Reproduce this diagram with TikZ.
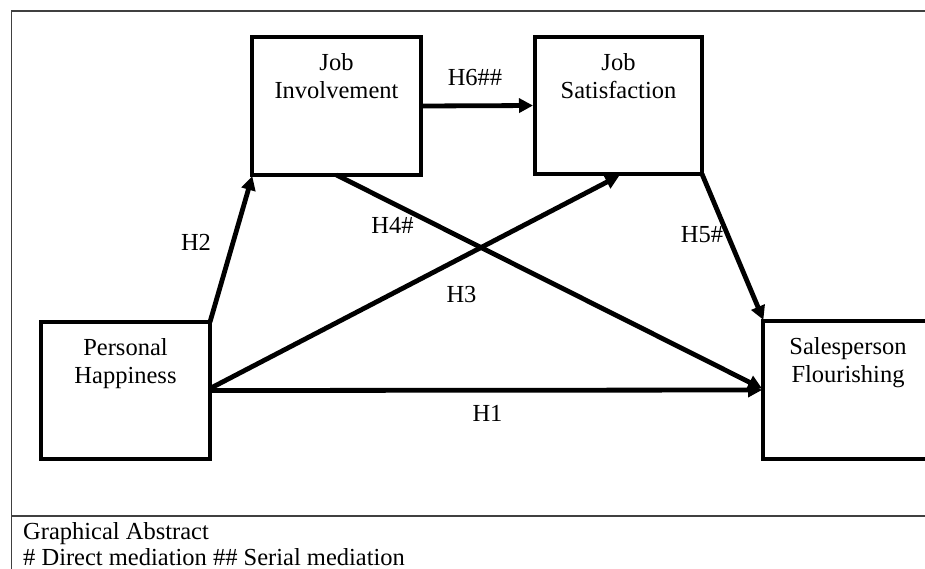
\documentclass[tikz,border=0pt]{standalone}
\usepackage{fontspec}
\setmainfont{Liberation Serif}
\usetikzlibrary{arrows.meta}
\tikzset{
  box/.style={draw=black, line width=4.8pt, rectangle, inner sep=0pt, outer sep=0pt, fill=none},
  boxtext/.style={font=\fontsize{24.5}{28}\selectfont, align=center, inner sep=0pt, anchor=north},
  lbl/.style={font=\fontsize{24.5}{28}\selectfont, inner sep=0pt, anchor=base},
  conn/.style={line width=4.8pt, -{Triangle[length=14pt,width=14pt]}, shorten >=-1pt},
  frame/.style={line width=1.2pt, draw=black!75},
  note/.style={font=\fontsize{24.5}{28}\selectfont, inner sep=0pt, anchor=base west}
}
\begin{document}
\begin{tikzpicture}[x=1pt,y=-1pt]
\useasboundingbox (0,0) rectangle (925,568);
\clip (0,0) rectangle (925,568);
% frame
\coordinate (f1) at (11.5,11);
\coordinate (f2) at (940,11);
\coordinate (f3) at (11.5,580);
\coordinate (s1) at (11.5,516);
\coordinate (s2) at (940,516);
\draw[frame] (f3) -- (f1) -- (f2);
\draw[frame] (s1) -- (s2);
% boxes
\node[box, minimum width=169pt, minimum height=137pt] (ph) at (125.5,390.5) {};
\node[box, minimum width=169pt, minimum height=138pt] (ji) at (336.5,106) {};
\node[box, minimum width=167pt, minimum height=137pt] (js) at (618.5,105.5) {};
\node[box, minimum width=170pt, minimum height=138pt] (sf) at (848,390) {};
% box texts
\node[boxtext] (pht) at ([yshift=-16.4pt]ph.north) {Personal\\Happiness};
\node[boxtext] (jit) at ([yshift=-16.4pt]ji.north) {Job\\Involvement};
\node[boxtext] (jst) at ([yshift=-16.4pt]js.north) {Job\\Satisfaction};
\node[boxtext] (sft) at ([yshift=-16.4pt]sf.north) {Salesperson\\Flourishing};
% connectors
\draw[conn] (ph.north east) -- ([yshift=-2pt]ji.south west);
\draw[conn, shorten >=2pt] (ji.east) -- (js.west);
\draw[conn, shorten >=1pt] (ji.south) -- ([yshift=1pt]sf.west);
\draw[conn] ([yshift=2pt]ph.east) -- ([yshift=-2pt]js.south);
\draw[conn, shorten >=1pt] (ph.east) -- (sf.west);
\draw[conn] (js.south east) -- ([yshift=2pt]sf.north west);
% labels
\node[lbl] (h2) at (196,250) {H2};
\node[lbl] (h6) at (475,85) {H6\#\#};
\node[lbl] (h4) at (392.5,233) {H4\#};
\node[lbl] (h3) at (461.5,302) {H3};
\node[lbl] (h5) at (702,242) {H5\#};
\node[lbl] (h1) at (487.5,421.5) {H1};
% caption
\node[note] (n1) at (23,539) {Graphical Abstract};
\node[note] (n2) at (23,565) {\# Direct mediation \#\# Serial mediation};
\end{tikzpicture}
\end{document}
